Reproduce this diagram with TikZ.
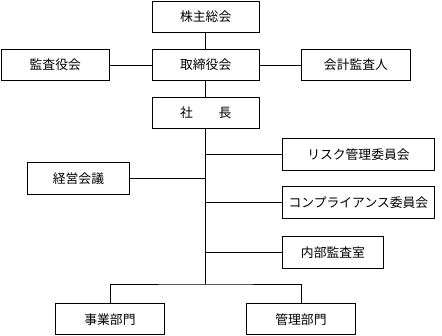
\documentclass[tikz,border=0pt]{standalone}
\usepackage{fontspec}
\setmainfont{Noto Sans CJK JP}
\begin{document}
\begin{tikzpicture}[x=1pt,y=-1pt,
  box/.style={draw, line width=0.9pt, inner sep=0pt, font=\fontsize{12.8}{14}\selectfont},
  link/.style={draw, line width=0.8pt, line cap=rect}]
\useasboundingbox (0,0) rectangle (442,335);
\newcommand{\bx}[6]{\node[box, minimum width=#4-#2, minimum height=#5-#3, anchor=north west] (#1) at (#2,#3) {#6};}
\bx{kabu}{151.5}{0.6}{259}{32}{株主総会}
\bx{tori}{151.5}{49}{259}{80}{取締役会}
\bx{kansa}{0.6}{49}{109}{80}{監査役会}
\bx{kaikei}{301}{49}{410}{80}{会計監査人}
\bx{shacho}{151.5}{97}{259}{128}{社　　長}
\bx{risk}{282}{138}{434}{170}{リスク管理委員会}
\bx{keiei}{27}{162}{129}{194}{経営会議}
\bx{comp}{282}{186}{434}{218}{コンプライアンス委員会}
\bx{naibu}{282}{236}{383}{268}{内部監査室}
\bx{jigyo}{55}{303}{164}{334.4}{事業部門}
\bx{kanri}{246}{303}{355}{334.4}{管理部門}
\coordinate (bot) at (shacho.south |- 0,284);
\path[link] (kabu.south) -- (tori.north);
\path[link] (kansa.east) -- (tori.west);
\path[link] (tori.east) -- (kaikei.west);
\path[link] (tori.south) -- (shacho.north);
\path[link] (jigyo.north) |- (bot) -| (kanri.north) (bot) -- (shacho.south);
\path[link] (risk.west) -- (risk.west -| bot);
\path[link] (keiei.east) -- (keiei.east -| bot);
\path[link] (comp.west) -- (comp.west -| bot);
\path[link] (naibu.west) -- (naibu.west -| bot);
\end{tikzpicture}
\end{document}
